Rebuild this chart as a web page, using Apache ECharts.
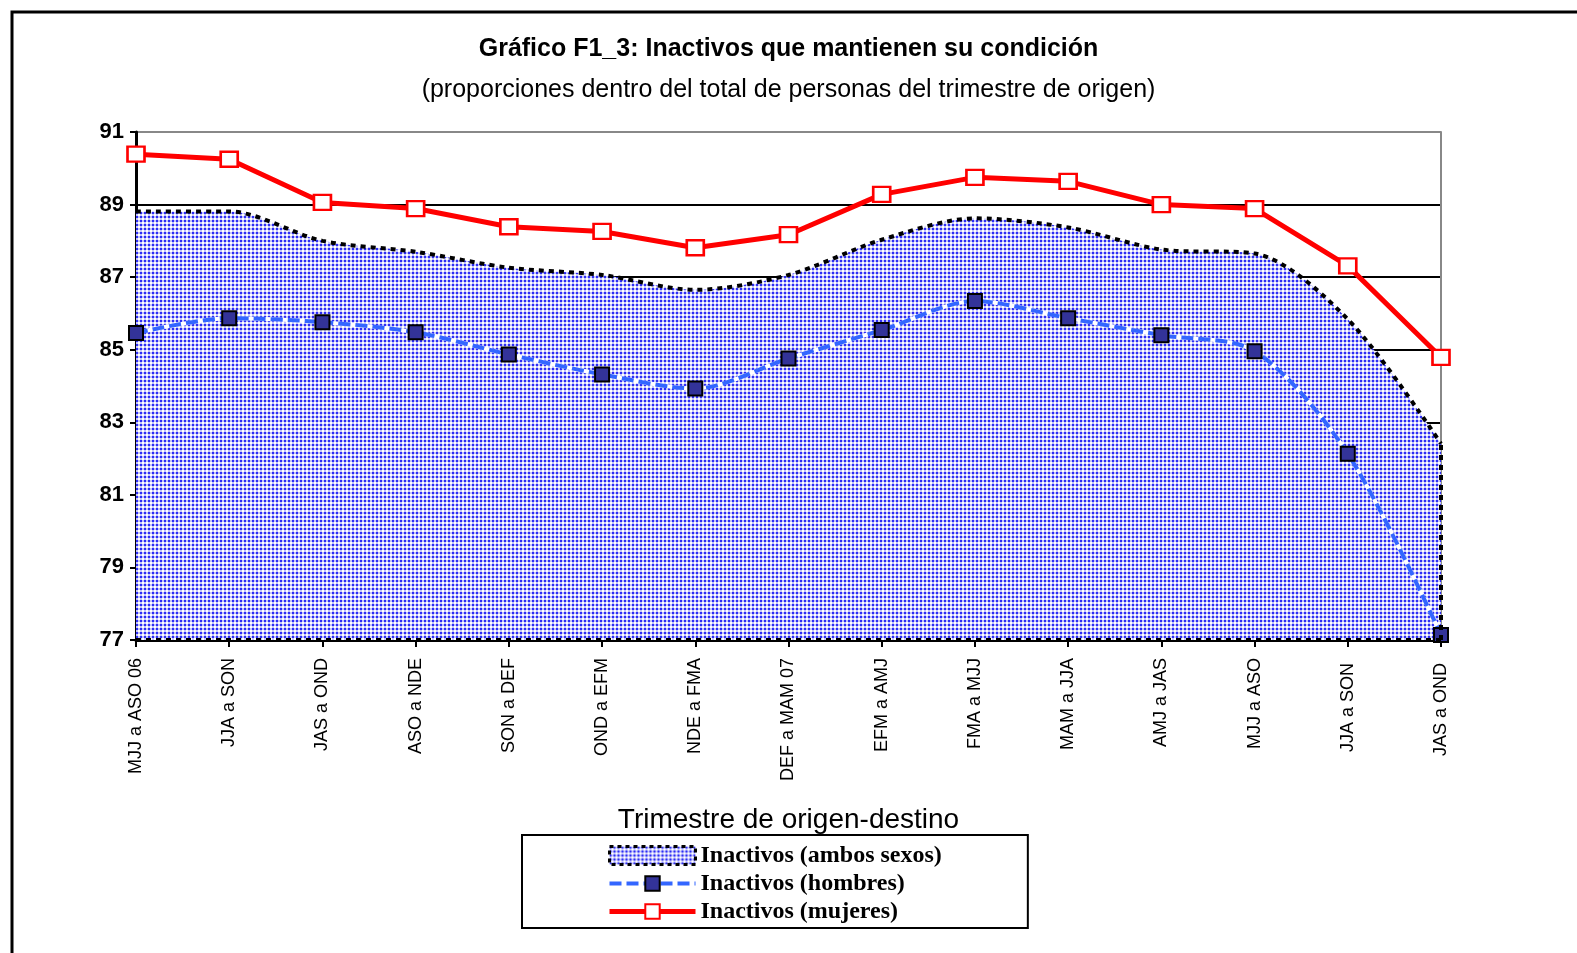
<!DOCTYPE html>
<html>
<head>
<meta charset="utf-8">
<script src="https://cdn.jsdelivr.net/npm/echarts@6/dist/echarts.min.js"></script>
<style>html,body{margin:0;padding:0;background:#fff}#c{width:1577px;height:953px}</style>
</head>
<body>
<div id="c"></div>
<script>
var categories = ['MJJ a ASO 06','JJA a SON','JAS a OND','ASO a NDE','SON a DEF','OND a EFM','NDE a FMA','DEF a MAM 07','EFM a AMJ','FMA a MJJ','MAM a JJA','AMJ a JAS','MJJ a ASO','JJA a SON ','JAS a OND '];
var ambos   = [88.81, 88.81, 88.00, 87.70, 87.26, 87.06, 86.65, 87.06, 88.03, 88.62, 88.37, 87.76, 87.65, 85.84, 82.41];
var hombres = [85.46, 85.87, 85.76, 85.48, 84.87, 84.32, 83.93, 84.76, 85.54, 86.34, 85.87, 85.40, 84.96, 82.13, 77.14];
var mujeres = [90.39, 90.25, 89.06, 88.89, 88.39, 88.26, 87.81, 88.17, 89.28, 89.75, 89.64, 89.00, 88.89, 87.31, 84.79];
var yTicks = [77, 79, 81, 83, 85, 87, 89, 91];
var names = ['Inactivos (ambos sexos)', 'Inactivos (hombres)', 'Inactivos (mujeres)'];

var cv = document.createElement('canvas');
cv.width = 4; cv.height = 4;
var cx = cv.getContext('2d');
cx.fillStyle = '#ffffff'; cx.fillRect(0,0,4,4);
cx.fillStyle = '#c4c4fa'; cx.fillRect(0,0,4,2); cx.fillRect(0,0,2,4);
cx.fillStyle = '#2d2df5'; cx.fillRect(0,0,2,2);
var pattern = {image: cv, repeat: 'repeat'};

var narrow = "'Liberation Sans Narrow','Arial Narrow','Liberation Sans',sans-serif";
var last = categories.length - 1;

var chart = echarts.init(document.getElementById('c'));
chart.setOption({
  animation: false,
  backgroundColor: '#fff',
  title: {
    text: 'Gráfico F1_3: Inactivos que mantienen su condición',
    subtext: '(proporciones dentro del total de personas del trimestre de origen)',
    left: 'center', top: 32, itemGap: 16,
    textStyle: {fontFamily: narrow, fontSize: 25, fontWeight: 'bold', color: '#000'},
    subtextStyle: {fontFamily: narrow, fontSize: 25, color: '#000'}
  },
  graphic: [{
    type: 'polyline', silent: true,
    shape: {points: [[12, 953], [12, 12], [1577, 12]]},
    style: {stroke: '#000', lineWidth: 3, fill: null}
  }],
  legend: {
    orient: 'vertical', left: 522, top: 835,
    padding: [7, 86, 3, 85], itemGap: 1,
    itemWidth: 86, itemHeight: 18,
    borderColor: '#000', borderWidth: 2, borderRadius: 0,
    textStyle: {fontFamily: "'Liberation Serif','Times New Roman',serif", fontWeight: 'bold', fontSize: 24, lineHeight: 27, color: '#000'},
    data: [
      {name: names[0], icon: 'rect', itemStyle: {color: pattern, borderColor: '#000', borderWidth: 3, borderType: [4, 4]}},
      {name: names[1], lineStyle: {width: 4}},
      {name: names[2], lineStyle: {width: 5}}
    ]
  },
  grid: {left: 136, right: 136, top: 132, bottom: 313, containLabel: false},
  xAxis: {
    type: 'category', data: categories, boundaryGap: false,
    name: 'Trimestre de origen-destino', nameLocation: 'middle', nameGap: 166,
    nameTextStyle: {fontFamily: narrow, fontSize: 28, color: '#000'},
    axisLine: {lineStyle: {color: '#000', width: 3}},
    axisTick: {show: true, inside: false, length: 7, alignWithLabel: true, lineStyle: {color: '#000', width: 2}},
    axisLabel: {rotate: 90, interval: 0, margin: 18, fontFamily: "'Liberation Sans',Arial,sans-serif", fontSize: 18, color: '#000'},
    splitLine: {show: false}
  },
  yAxis: [{
    type: 'value', min: yTicks[0], max: yTicks[yTicks.length - 1], interval: 2,
    axisLine: {show: true, lineStyle: {color: '#000', width: 3}},
    axisTick: {show: true, length: 6, lineStyle: {color: '#000', width: 2}},
    axisLabel: {fontFamily: narrow, fontWeight: 'bold', fontSize: 22, color: '#000', margin: 12},
    splitLine: {show: true, lineStyle: {color: ['#000','#000','#000','#000','#000','#000','#000','#888'], width: 2}}
  }, {
    type: 'value', min: yTicks[0], max: yTicks[yTicks.length - 1], interval: 2, position: 'right',
    axisLine: {show: true, lineStyle: {color: '#888', width: 2}},
    axisTick: {show: false}, axisLabel: {show: false}, splitLine: {show: false}
  }],
  series: [{
    name: names[0], type: 'line', data: ambos, smooth: 0.3, symbol: 'none', z: 2,
    itemStyle: {color: '#5a5af0'},
    lineStyle: {color: '#000', width: 4, type: [5, 5]},
    areaStyle: {color: pattern, opacity: 1, origin: 'start'},
    markLine: {
      silent: true, symbol: 'none', label: {show: false},
      lineStyle: {color: '#000', width: 4, type: [5, 5]},
      data: [
        [{coord: [last, yTicks[0]]}, {coord: [last, ambos[last]]}],
        [{coord: [0, yTicks[0]]}, {coord: [last, yTicks[0]]}]
      ]
    }
  }, {
    name: 'base', type: 'line', data: hombres, smooth: 0.3, symbol: 'none', z: 3, silent: true,
    lineStyle: {color: '#fff', width: 4}
  }, {
    name: names[1], type: 'line', data: hombres, smooth: 0.3, z: 4,
    symbol: 'rect', symbolSize: 14,
    itemStyle: {color: '#333399', borderColor: '#000', borderWidth: 2},
    lineStyle: {color: '#3366ff', width: 4, type: [12, 5]}
  }, {
    name: names[2], type: 'line', data: mujeres, smooth: false, z: 5,
    symbol: 'rect', symbolSize: [17, 15],
    itemStyle: {color: '#fff', borderColor: '#ff0000', borderWidth: 2.5},
    lineStyle: {color: '#ff0000', width: 5}
  }]
});
</script>
</body>
</html>
